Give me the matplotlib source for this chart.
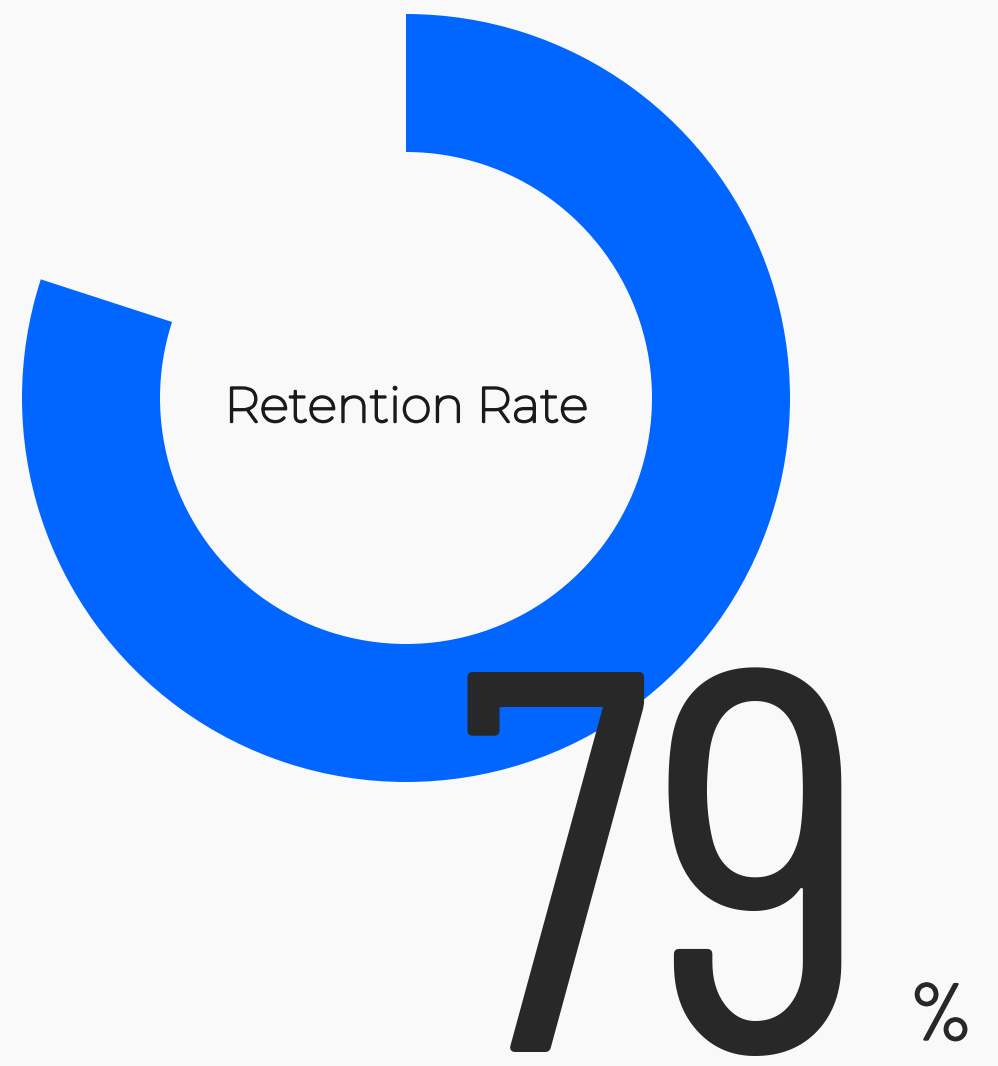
import matplotlib
matplotlib.use("Agg")
import matplotlib.pyplot as plt
import matplotlib.patheffects as pe
from matplotlib.patches import Wedge

# --- colores ---
BG = "#f9f9f9"
BLUE = "#0066ff"
DARK = "#282828"
LABEL_CLR = "#1a1a1a"

# --- datos ---
value_label = "79"
ring_share = 0.80        # fracción del anillo pintada
center_label = "Retention Rate"
unit_label = "%"

W, H = 998, 1066
fig = plt.figure(figsize=(W / 100, H / 100), dpi=100, facecolor=BG)
ax = fig.add_axes([0, 0, 1, 1])
ax.set_xlim(0, W)
ax.set_ylim(0, H)
ax.set_facecolor(BG)
ax.axis("off")

# anillo: empieza arriba y avanza en sentido horario
cx, cy = 406, H - 398
r_out, ring_w = 384, 138
ax.add_patch(Wedge((cx, cy), r_out, 90 - 360 * ring_share, 90,
                   width=ring_w, facecolor=BLUE, edgecolor="none"))

# Montserrat instalada es variable (sale Thin); se engrosa con un trazo
ax.text(cx, H - 422, center_label, ha="center", va="baseline",
        fontsize=35.5, color=LABEL_CLR, family="Montserrat",
        path_effects=[pe.withStroke(linewidth=1.7, foreground=LABEL_CLR)])

ax.text(455, H - 1052, value_label, ha="left", va="baseline",
        fontsize=390, color=DARK, family="Barlow Condensed")
ax.text(941, H - 1040, unit_label, ha="center", va="baseline",
        fontsize=58, color=DARK, family="Barlow Condensed",
        path_effects=[pe.withStroke(linewidth=1.0, foreground=DARK)])

plt.savefig("out.png", dpi=100, facecolor=BG)
